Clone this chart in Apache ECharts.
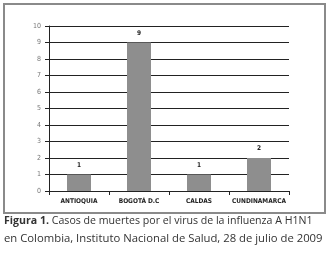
<!DOCTYPE html>
<html>
<head>
<meta charset="utf-8">
<script src="https://cdn.jsdelivr.net/npm/echarts@6/dist/echarts.min.js"></script>
<style>
  html, body { margin: 0; padding: 0; background: #fff; }
  #chart { width: 332px; height: 254px; }
</style>
</head>
<body>
<div id="chart"></div>
<script>
var departamentos = ['ANTIOQUIA', 'BOGOTÁ D.C', 'CALDAS', 'CUNDINAMARCA'];
var muertes = [1, 9, 1, 2];

var smallFont = '"DejaVu Sans Condensed", "DejaVu Sans", sans-serif';

var chart = echarts.init(document.getElementById('chart'));
var option = {
    animation: false,
    backgroundColor: '#fff',
    grid: { left: 49, right: 43, top: 26, bottom: 63 },
    xAxis: {
        type: 'category',
        data: departamentos,
        axisLine: { lineStyle: { color: '#222', width: 1 } },
        axisTick: { show: true, length: 4, lineStyle: { color: '#222' } },
        axisLabel: { color: '#222', fontSize: 6.5, fontWeight: 'bold', fontFamily: smallFont, margin: 7, interval: 0 }
    },
    yAxis: {
        type: 'value',
        min: 0, max: 10, interval: 1,
        axisLine: { show: true, lineStyle: { color: '#222' } },
        axisTick: { show: true, length: 4, lineStyle: { color: '#222' } },
        axisLabel: { color: '#777', fontSize: 7, fontFamily: smallFont, margin: 8 },
        splitLine: { lineStyle: { color: '#222', width: 1 } }
    },
    series: [{
        type: 'bar',
        data: muertes,
        barWidth: '40%',
        itemStyle: { color: '#8e8e8e' },
        label: { show: true, position: 'top', color: '#222', fontSize: 6.5, fontWeight: 'bold', fontFamily: smallFont, distance: 6 }
    }],
    graphic: [
        { type: 'rect', shape: { x: 4, y: 4, width: 321, height: 209 },
          style: { fill: 'none', stroke: '#8a8a8a', lineWidth: 2 } },
        { type: 'text', left: 4, top: 215,
          style: { rich: { b: { fontWeight: 'bold', fontSize: 10.6, fontFamily: 'Open Sans', fill: '#333' },
                           n: { fontSize: 10.6, fontFamily: 'Open Sans', fill: '#333' } },
                   text: '{b|Figura 1.}{n| Casos de muertes por el virus de la influenza A H1N1}' } },
        { type: 'text', left: 4, top: 233,
          style: { text: 'en Colombia, Instituto Nacional de Salud, 28 de julio de 2009',
                   fontSize: 11.3, fontFamily: 'Open Sans', fill: '#333' } }
    ]
};
chart.setOption(option);
</script>
</body>
</html>
